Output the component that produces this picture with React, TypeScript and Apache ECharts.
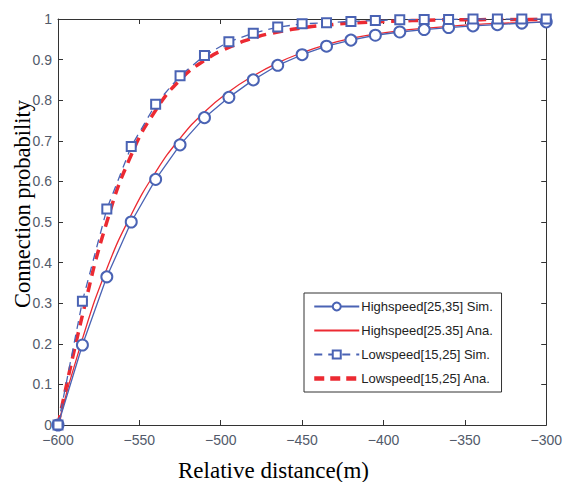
import React, { useEffect, useRef } from "react";
import * as echarts from "echarts";

const distances = [-600, -585, -570, -555, -540, -525, -510, -495, -480, -465, -450, -435, -420, -405, -390, -375, -360, -345, -330, -315, -300];
const highSim = [0, 0.197, 0.365, 0.5, 0.605, 0.69, 0.757, 0.807, 0.85, 0.886, 0.912, 0.933, 0.948, 0.96, 0.968, 0.974, 0.979, 0.983, 0.986, 0.99, 0.993];
const highAna = [0, 0.212, 0.385, 0.518, 0.623, 0.706, 0.771, 0.821, 0.86, 0.892, 0.917, 0.937, 0.952, 0.963, 0.971, 0.977, 0.982, 0.986, 0.989, 0.991, 0.993];
const lowSim = [0, 0.305, 0.532, 0.686, 0.79, 0.86, 0.91, 0.944, 0.965, 0.98, 0.988, 0.991, 0.994, 0.996, 0.998, 0.999, 0.999, 1, 1, 1, 1];
const lowAna = [0, 0.27, 0.5, 0.665, 0.775, 0.85, 0.898, 0.93, 0.953, 0.968, 0.978, 0.985, 0.99, 0.993, 0.995, 0.997, 0.998, 0.998, 0.999, 0.999, 1];
const seriesNames = ["Highspeed[25,35] Sim.", "Highspeed[25.35] Ana.", "Lowspeed[15,25] Sim.", "Lowspeed[15,25] Ana."];
const yAxisTitle = "Connection probability";
const xAxisTitle = "Relative distance(m)";

const pairs = (ys: number[]) => distances.map((d, i) => [d, ys[i]]);

export default function App() {
  const ref = useRef<HTMLDivElement>(null);
  useEffect(() => {
    if (!ref.current) return;
    const chart = echarts.init(ref.current, null, { renderer: "svg" });
    const blue = "#4a63b4";
    const red = "#ec2a32";
    const axisCommon = {
      axisLine: { show: true, onZero: false, lineStyle: { color: "#333", width: 1 } },
      axisTick: { show: true, inside: true, length: 5, lineStyle: { color: "#333" } },
      splitLine: { show: false },
    };
    const labelStyle = {
      color: "#525a6a",
      fontFamily: "Liberation Sans, Arial, sans-serif",
      fontSize: 14,
    };
    const serif = "Liberation Serif, Times New Roman, serif";
    const hiddenSymbol = { color: "rgba(0,0,0,0)", borderColor: "rgba(0,0,0,0)", borderWidth: 0 };
    chart.setOption({
      animation: false,
      backgroundColor: "#fff",
      grid: { left: 58, right: 14, top: 19, bottom: 57 },
      xAxis: [
        {
          type: "value",
          min: -600,
          max: -300,
          interval: 50,
          ...axisCommon,
          axisLabel: {
            ...labelStyle,
            margin: 8,
            formatter: (v: number) => String(v).replace("-", "\u2212"),
          },
        },
        {
          type: "value",
          position: "top",
          min: -600,
          max: -300,
          interval: 50,
          ...axisCommon,
          axisLabel: { show: false },
        },
      ],
      yAxis: [
        {
          type: "value",
          min: 0,
          max: 1,
          interval: 0.1,
          ...axisCommon,
          axisLabel: { ...labelStyle, margin: 6, formatter: (v: number) => String(Math.round(v * 10) / 10) },
        },
        {
          type: "value",
          position: "right",
          min: 0,
          max: 1,
          interval: 0.1,
          ...axisCommon,
          axisLabel: { show: false },
        },
      ],
      legend: {
        orient: "vertical",
        left: 304,
        top: 293,
        width: 223,
        padding: [7, 8, 7, 8],
        itemWidth: 45,
        itemHeight: 10,
        itemGap: 11,
        borderColor: "#333",
        borderWidth: 1,
        backgroundColor: "#fff",
        borderRadius: 0,
        textStyle: { fontFamily: "Liberation Sans, Arial, sans-serif", fontSize: 13, color: "#222", padding: [0, 0, 0, -3] },
        data: [
          { name: seriesNames[0] },
          { name: seriesNames[1], itemStyle: hiddenSymbol },
          { name: seriesNames[2] },
          { name: seriesNames[3], itemStyle: hiddenSymbol, lineStyle: { width: 4.5, type: [10, 6] } },
        ],
      },
      graphic: [
        {
          type: "text",
          x: 178,
          y: 470,
          style: {
            text: xAxisTitle,
            fontFamily: serif,
            fontSize: 23,
            fill: "#000",
            align: "left",
            verticalAlign: "middle",
          },
        },
        {
          type: "text",
          x: 22,
          y: 204,
          rotation: Math.PI / 2,
          style: {
            text: yAxisTitle,
            fontFamily: serif,
            fontSize: 22.5,
            fill: "#000",
            align: "center",
            verticalAlign: "middle",
          },
        },
      ],
      series: [
        {
          name: seriesNames[1],
          type: "line",
          data: pairs(highAna),
          smooth: true,
          showSymbol: false,
          symbol: "none",
          lineStyle: { color: red, width: 1.3 },
          itemStyle: { color: red },
          z: 2,
        },
        {
          name: seriesNames[3],
          type: "line",
          data: pairs(lowAna),
          smooth: true,
          showSymbol: false,
          symbol: "none",
          lineStyle: { color: red, width: 3.5, type: [10, 7] },
          itemStyle: { color: red },
          z: 2,
        },
        {
          name: seriesNames[0],
          type: "line",
          data: pairs(highSim),
          symbol: "emptyCircle",
          symbolSize: 11,
          lineStyle: { color: blue, width: 1.3 },
          itemStyle: { color: blue, borderWidth: 1.3 },
          z: 3,
        },
        {
          name: seriesNames[2],
          type: "line",
          data: pairs(lowSim),
          symbol: "emptyRect",
          symbolSize: 9,
          lineStyle: { color: blue, width: 1.3, type: [8, 6] },
          itemStyle: { color: blue, borderWidth: 1.3 },
          z: 3,
        },
      ],
    });
    return () => chart.dispose();
  }, []);
  return (
    <div
      ref={ref}
      style={{ position: "fixed", left: 0, top: 0, width: 565, height: 482 }}
    />
  );
}
